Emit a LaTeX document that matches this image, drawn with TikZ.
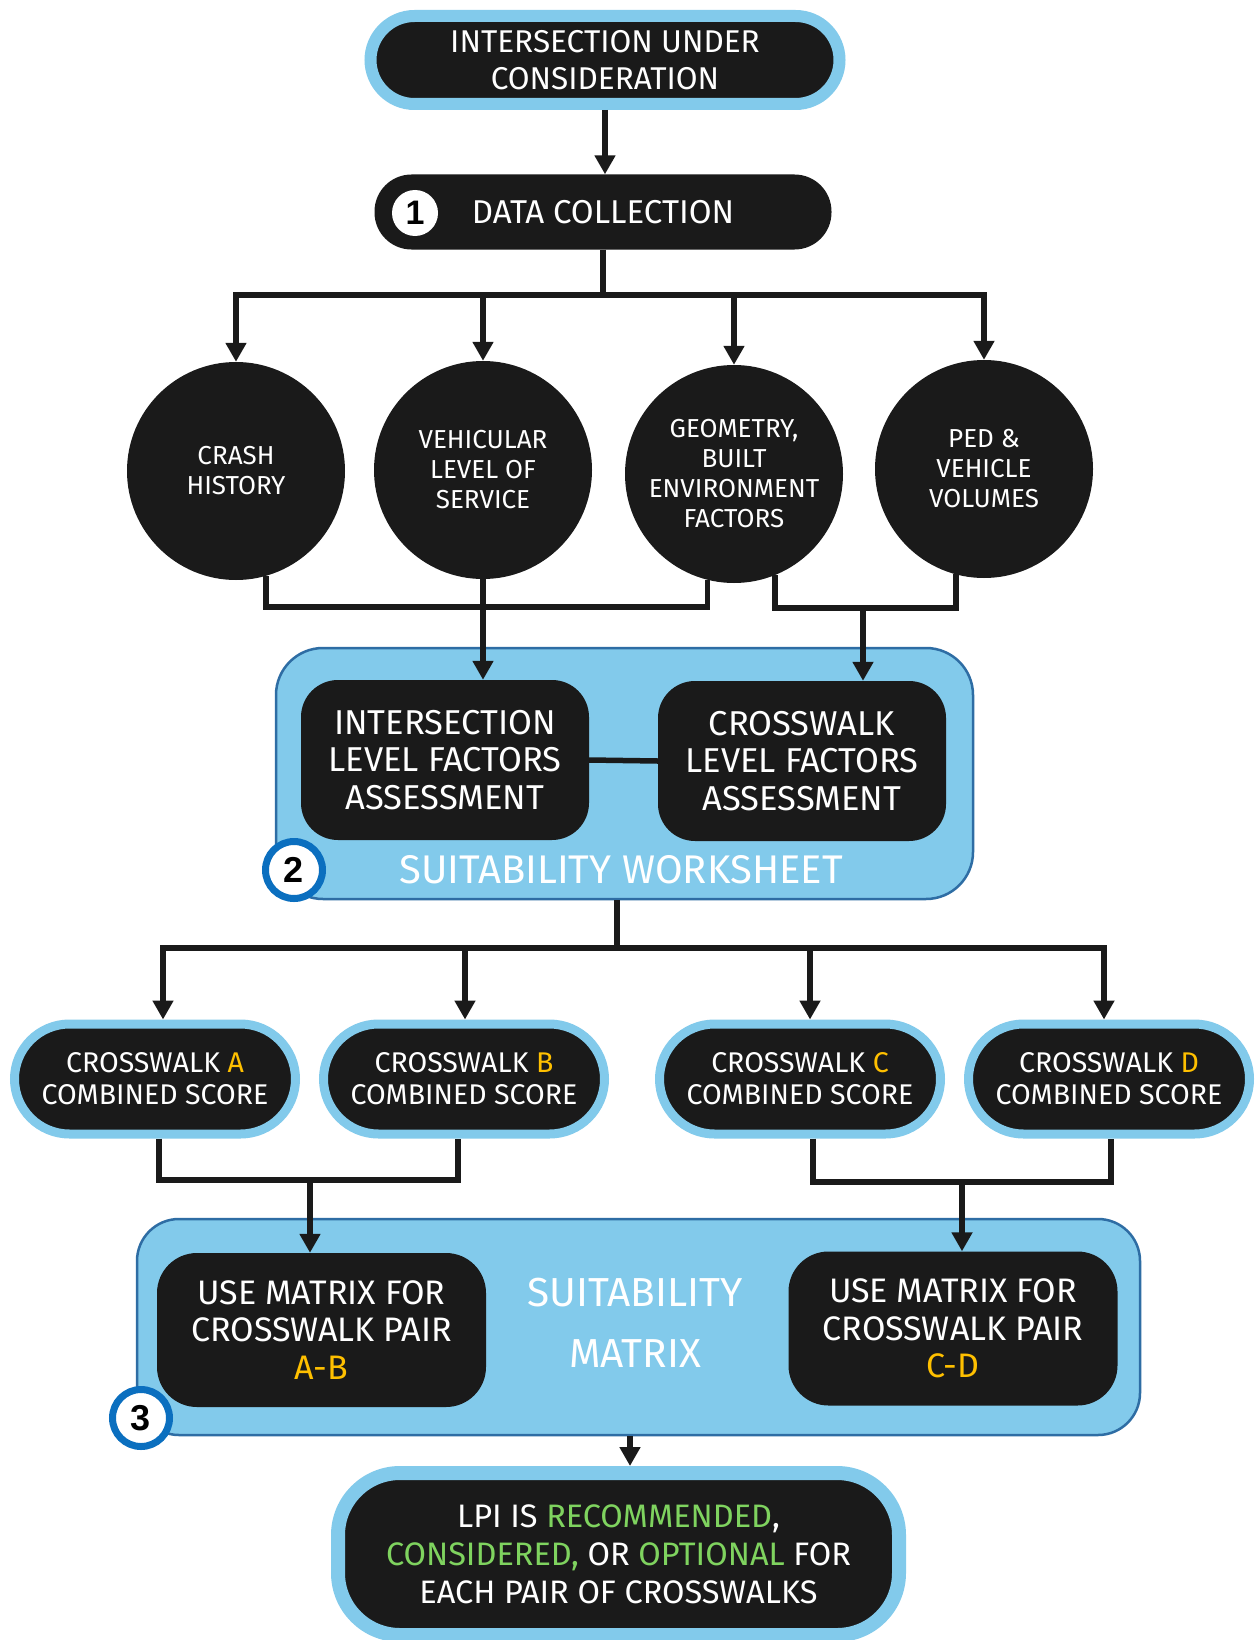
\documentclass[tikz,border=0pt]{standalone}
\usepackage{fontspec}
\setmainfont{Fira Sans}
\newfontfamily\numfont{Liberation Sans}
\usetikzlibrary{arrows.meta}

\definecolor{ink}{HTML}{1A1A1A}
\definecolor{sky}{HTML}{82CAEB}
\definecolor{edge}{HTML}{2E6DA4}
\definecolor{ring}{HTML}{0B6FBF}
\definecolor{gold}{HTML}{FFC000}
\definecolor{leaf}{HTML}{7FD35F}

\begin{document}
\begin{tikzpicture}[x=1pt,y=-1pt,
  wire/.style={line width=5.5pt, draw=ink},
  arr/.style={wire, -{Triangle[width=20pt,length=19pt]}},
  pill/.style={rectangle, fill=ink, draw=sky, text=white, align=center, inner sep=0pt},
  blackbox/.style={rectangle, fill=ink, text=white, align=center, inner sep=0pt},
  bubble/.style={circle, fill=ink, text=white, align=center, minimum size=218pt,
    inner sep=0pt, font=\fontsize{26}{30}\selectfont},
  panel/.style={rectangle, fill=sky, draw=edge, line width=2.5pt, inner sep=0pt},
  badge/.style={circle, fill=white, draw=ring, line width=7pt, inner sep=0pt,
    minimum size=57pt, font=\numfont\bfseries\fontsize{36}{36}\selectfont},
  score/.style={pill, line width=9pt, minimum width=281pt, minimum height=110pt,
    rounded corners=55pt, font=\fontsize{28.5}{32}\selectfont},
  assess/.style={blackbox, minimum width=288pt, minimum height=160pt,
    rounded corners=37pt, font=\fontsize{34.5}{37.6}\selectfont},
  usebox/.style={blackbox, minimum width=329pt, minimum height=154pt,
    rounded corners=40pt, font=\fontsize{34}{37.6}\selectfont},
]
\fill[white] (0,0) rectangle (1255,1640);
\useasboundingbox (0,0) rectangle (1255,1640);

% start and data collection
\node[pill, line width=12pt, minimum width=469pt, minimum height=88pt,
  rounded corners=44pt, font=\fontsize{31.5}{37}\selectfont]
  (top) at (605,60) {INTERSECTION UNDER\\CONSIDERATION};
\node[blackbox, minimum width=457pt, minimum height=75pt, rounded corners=37pt,
  font=\fontsize{33}{33}\selectfont] (data) at (603,212) {DATA COLLECTION};
\node[circle, fill=white, minimum size=46pt, inner sep=0pt,
  font=\numfont\bfseries\fontsize{34}{34}\selectfont] (n1) at (415,213) {1};

% data categories
\node[bubble] (crash) at (236,471) {CRASH\\HISTORY};
\node[bubble] (veh) at (483,470) {VEHICULAR\\LEVEL OF\\SERVICE};
\node[bubble] (geo) at (734,474) {GEOMETRY,\\BUILT\\ENVIRONMENT\\FACTORS};
\node[bubble] (ped) at (984,469) {PED \&\\VEHICLE\\VOLUMES};

% suitability worksheet
\node[panel, minimum width=697pt, minimum height=251pt, rounded corners=47pt]
  (ws) at (624.5,773.5) {};
\node[assess] (ilf) at (445,760) {INTERSECTION\\LEVEL FACTORS\\ASSESSMENT};
\node[assess] (clf) at (802,761) {CROSSWALK\\LEVEL FACTORS\\ASSESSMENT};
\node[text=white, inner sep=0pt, font=\fontsize{40}{40}\selectfont]
  (wslabel) at (621,870) {SUITABILITY WORKSHEET};
\node[badge] (n2) at (294,870) {2};

% combined scores
\node[score] (scA) at (155,1079) {CROSSWALK \textcolor{gold}{A}\\COMBINED SCORE};
\node[score] (scB) at (464,1079) {CROSSWALK \textcolor{gold}{B}\\COMBINED SCORE};
\node[score] (scC) at (800,1079) {CROSSWALK \textcolor{gold}{C}\\COMBINED SCORE};
\node[score] (scD) at (1109,1079) {CROSSWALK \textcolor{gold}{D}\\COMBINED SCORE};

% suitability matrix
\node[panel, minimum width=1003pt, minimum height=216pt, rounded corners=42pt]
  (mx) at (638.5,1327) {};
\node[usebox] (mAB) at (321.5,1330) {USE MATRIX FOR\\CROSSWALK PAIR\\\textcolor{gold}{A-B}};
\node[usebox] (mCD) at (953,1328.5) {USE MATRIX FOR\\CROSSWALK PAIR\\\textcolor{gold}{C-D}};
\node[text=white, align=center, inner sep=0pt, font=\fontsize{40.5}{61}\selectfont]
  (mxlabel) at (635,1323) {SUITABILITY\\MATRIX};
\node[badge] (n3) at (141,1418) {3};

% outcome
\node[pill, line width=14pt, minimum width=561pt, minimum height=162pt,
  rounded corners=62pt, font=\fontsize{32.5}{38}\selectfont] (lpi) at (618.5,1554)
  {LPI IS \textcolor{leaf}{RECOMMENDED},\\\textcolor{leaf}{CONSIDERED,} OR
   \textcolor{leaf}{OPTIONAL} FOR\\EACH PAIR OF CROSSWALKS};

% connectors
\draw[arr] (top.south) -- (top.south |- data.north);

\coordinate (bus1) at (602,295);
\draw[wire] (data.south) -- (data.south |- bus1);
\draw[wire, line cap=rect] (crash.north |- bus1) -- (ped.north |- bus1);
\foreach \n in {crash,veh,geo,ped}
  \draw[arr] (\n.north |- bus1) -- (\n.north);

\coordinate (lbus) at (483,607);
\draw[wire] (crash.-74) |- (lbus) -| (geo.-104);
\draw[arr] (veh.south) -- (veh.south |- ilf.north);
\coordinate (rbus) at (863,608);
\draw[wire] (geo.-68) |- (rbus) -| (ped.-105);
\draw[arr] (rbus) -- (rbus |- clf.north);

\draw[wire] (ilf.east) -- (clf.west);

\coordinate (bus2) at (617,948);
\draw[wire] (bus2 |- ws.south) -- (bus2);
\draw[wire, line cap=rect] ([xshift=8pt]scA.north |- bus2) -- ([xshift=-5pt]scD.north |- bus2);
\draw[arr] ([xshift=8pt]scA.north |- bus2) -- ([xshift=8pt]scA.north);
\draw[arr] ([xshift=1pt]scB.north |- bus2) -- ([xshift=1pt]scB.north);
\draw[arr] ([xshift=10pt]scC.north |- bus2) -- ([xshift=10pt]scC.north);
\draw[arr] ([xshift=-5pt]scD.north |- bus2) -- ([xshift=-5pt]scD.north);

\coordinate (abus) at (310,1180);
\draw[wire] ([xshift=4pt]scA.south) |- (abus) -| ([xshift=-6pt]scB.south);
\draw[arr] (abus) -- (abus |- mAB.north);
\coordinate (cbus) at (962,1182);
\draw[wire] ([xshift=13pt]scC.south) |- (cbus) -| ([xshift=2pt]scD.south);
\draw[arr] (cbus) -- (cbus |- mCD.north);

\coordinate (mout) at (630,1435);
\draw[arr] (mout |- mx.south) -- (mout |- lpi.north);
\end{tikzpicture}
\end{document}
